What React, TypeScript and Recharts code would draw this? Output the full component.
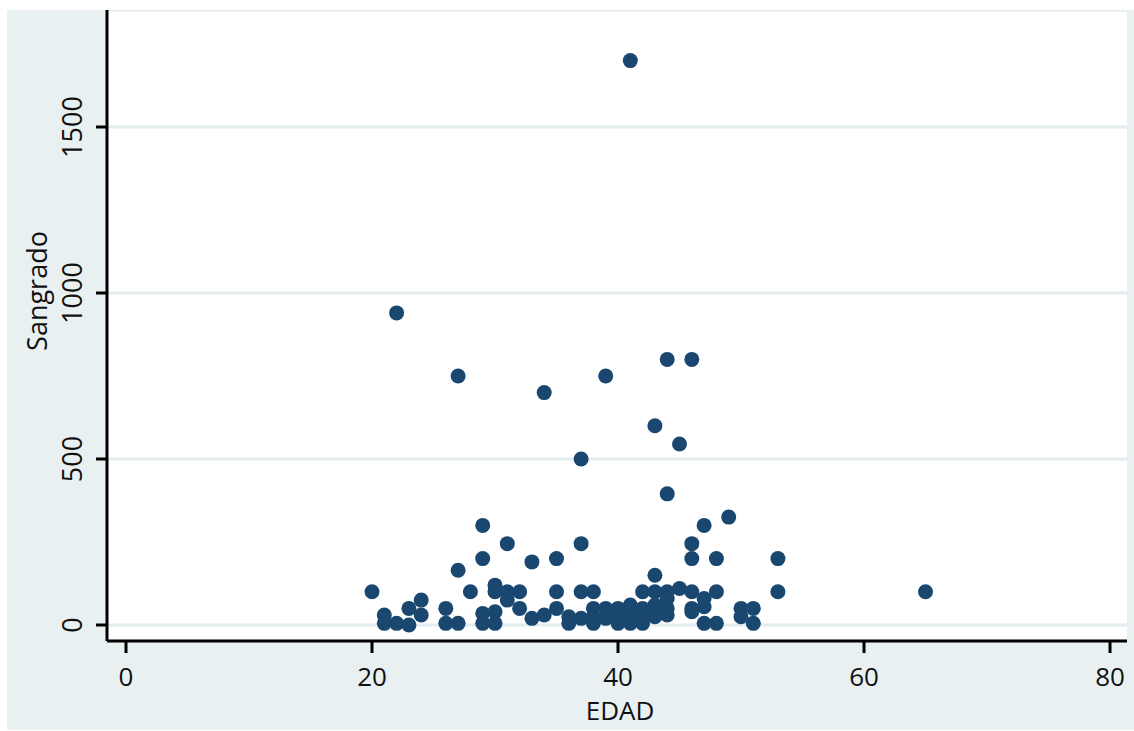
import React from 'react';
import { ScatterChart, Scatter, XAxis, YAxis, CartesianGrid } from 'recharts';

// EDAD (age) and Sangrado (bleeding) pairs
const edad = [
  20, 21, 21, 22, 22, 23, 23, 24, 24, 26, 26, 27, 27, 27, 28,
  29, 29, 29, 29, 30, 30, 30, 30, 31, 31, 31, 32, 32, 33, 33,
  34, 34, 35, 35, 35, 36, 36, 37, 37, 37, 37, 38, 38, 38, 38,
  39, 39, 39, 40, 40, 40, 40, 41, 41, 41, 41, 41, 42, 42, 42, 42,
  43, 43, 43, 43, 43, 43, 44, 44, 44, 44, 44, 44, 45, 45,
  46, 46, 46, 46, 46, 46, 47, 47, 47, 47, 48, 48, 48, 49,
  50, 50, 51, 51, 53, 53, 65,
];
const sangrado = [
  100, 30, 5, 940, 5, 50, 0, 75, 30, 50, 5, 750, 165, 5, 100,
  300, 200, 35, 5, 120, 100, 40, 5, 245, 100, 75, 100, 50, 190, 20,
  700, 30, 200, 100, 50, 25, 5, 500, 245, 100, 20, 100, 50, 25, 5,
  750, 50, 20, 50, 30, 15, 5, 1700, 60, 40, 20, 5, 100, 50, 30, 5,
  600, 150, 100, 60, 40, 25, 800, 395, 100, 80, 50, 30, 545, 110,
  800, 245, 200, 100, 50, 40, 300, 80, 55, 5, 200, 100, 5, 325,
  50, 25, 50, 5, 200, 100, 100,
];

const xTicks = [0, 20, 40, 60, 80];
const yTicks = [0, 500, 1000, 1500];

const data = edad.map((e, i) => ({ edad: e, sangrado: sangrado[i] }));

const FONT = '"Open Sans", sans-serif';
const BG = '#e8f0f2';
const DOT = '#1a476f';

const XTick = (props: any) => {
  const { x, y, payload } = props;
  return (
    <text x={x} y={y} dy={33} textAnchor="middle" fontFamily={FONT} fontSize={26} fill="#111">
      {payload.value}
    </text>
  );
};

const YTick = (props: any) => {
  const { y, payload } = props;
  const cx = 75;
  return (
    <text
      x={cx}
      y={y}
      transform={`rotate(-90, ${cx}, ${y})`}
      textAnchor="middle"
      fontFamily={FONT}
      fontSize={27}
      fill="#111"
    >
      {payload.value}
    </text>
  );
};

const Dot = (props: any) => {
  const { cx, cy } = props;
  return <circle cx={cx} cy={cy} r={7.5} fill={DOT} />;
};

export default function App() {
  return (
    <div style={{ position: 'absolute', left: 7, top: 10, width: 1127, height: 720, background: BG }}>
      <ScatterChart width={1127} height={720} margin={{ top: 0, right: 7, bottom: 0, left: 0 }}>
        <CartesianGrid vertical={false} stroke="#e3ecee" strokeWidth={3} fill="#ffffff" />
        <XAxis
          type="number"
          dataKey="edad"
          domain={[-1.545, 81.38]}
          allowDataOverflow
          ticks={xTicks}
          tick={<XTick />}
          tickSize={12}
          tickMargin={0}
          height={89}
          axisLine={{ stroke: '#000', strokeWidth: 3 }}
          tickLine={{ stroke: '#000', strokeWidth: 3 }}
          label={{
            content: () => (
              <text x={613} y={710} textAnchor="middle" fontFamily={FONT} fontSize={26} fill="#111">
                EDAD
              </text>
            ),
          }}
        />
        <YAxis
          type="number"
          dataKey="sangrado"
          domain={[-48.2, 1852.4]}
          allowDataOverflow
          ticks={yTicks}
          tick={<YTick />}
          tickSize={11}
          width={100}
          axisLine={{ stroke: '#000', strokeWidth: 3 }}
          tickLine={{ stroke: '#000', strokeWidth: 3 }}
          label={{
            content: () => (
              <text
                x={40}
                y={281}
                transform="rotate(-90, 40, 281)"
                textAnchor="middle"
                fontFamily={FONT}
                fontSize={27}
                fill="#111"
              >
                Sangrado
              </text>
            ),
          }}
        />
        <Scatter data={data} shape={<Dot />} isAnimationActive={false} />
      </ScatterChart>
    </div>
  );
}
